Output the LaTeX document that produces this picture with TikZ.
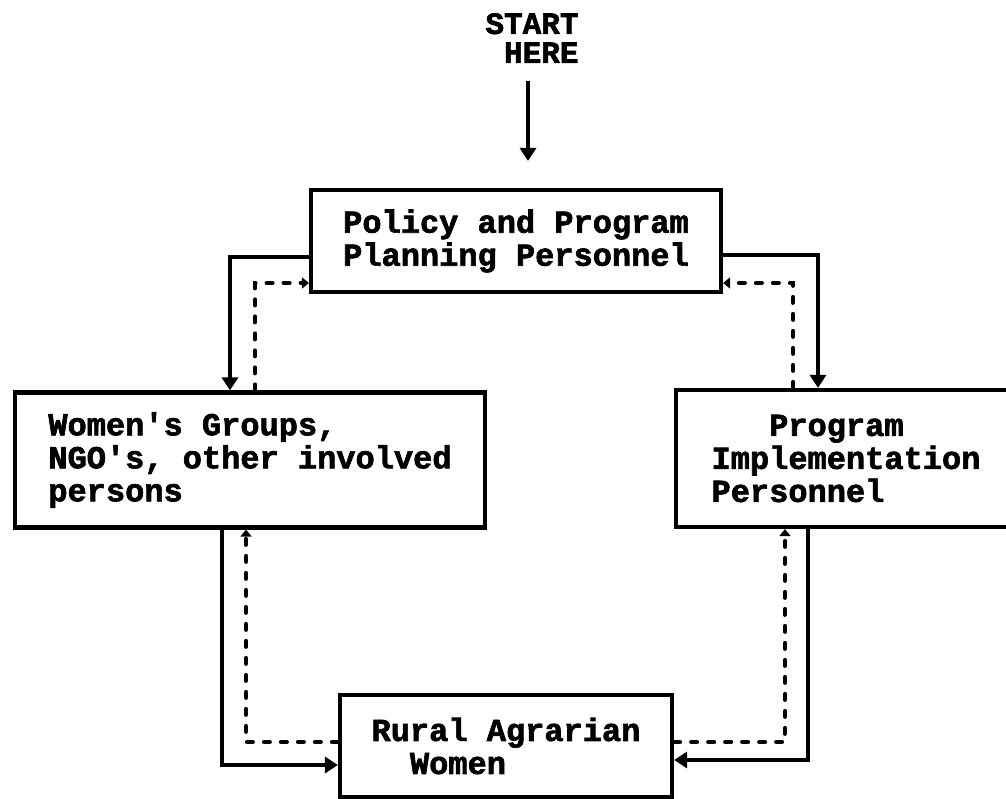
\documentclass[tikz,border=0pt]{standalone}
\usepackage{fontspec}
\newfontfamily\tw[FakeBold=2]{Liberation Mono}
\usetikzlibrary{arrows.meta}
\tikzset{
  box/.style={draw, line width=4.2pt, rectangle, inner sep=0pt, align=left,
    font=\tw\bfseries\fontsize{32}{33}\selectfont},
  solidarr/.style={line width=4.5pt, -{Triangle[width=16pt,length=13pt]}},
  dasharr/.style={line width=4pt, dash pattern=on 6pt off 11pt, line cap=round,
    -{Triangle[width=11pt,length=7pt]}},
}
\begin{document}
\begin{tikzpicture}[x=1pt,y=-1pt]
\clip (0,0) rectangle (1006,799);
\fill[white] (0,0) rectangle (1006,799);

\node[font=\tw\bfseries\fontsize{31}{29}\selectfont, align=right, inner sep=0pt, anchor=north]
  (start) at (532,13) {START\\HERE};

\node[box, minimum width=410pt, minimum height=102pt] (top) at (516,241)
  {Policy and Program\\Planning Personnel};
\node[box, minimum width=470pt, minimum height=135pt] (left) at (250,460)
  {Women's Groups,\\NGO's, other involved\\persons};
\node[box, minimum width=340pt, minimum height=137pt] (right) at (846,458.5)
  {\phantom{Imp}Program\\Implementation\\Personnel};
\node[box, minimum width=332pt, minimum height=102pt] (bottom) at (506,746)
  {Rural Agrarian\\\phantom{Ru}Women};

% start arrow
\draw[solidarr, shorten <=18pt, shorten >=27pt] ([xshift=-4pt]start.south) -- ([xshift=-4pt]start.south |- top.north);

% solid connectors
\draw[solidarr] ([yshift=-16pt]top.west) -| ([xshift=-20pt]left.north);
\draw[solidarr] ([yshift=-14pt]top.east) -| ([xshift=-28pt]right.north);
\draw[solidarr] ([xshift=-28pt]left.south) |- ([yshift=-19pt]bottom.west);
\draw[solidarr] ([xshift=-38pt]right.south) |- ([yshift=-14pt]bottom.east);

% dashed connectors
\draw[dasharr] ([xshift=5pt]left.north) |- ([yshift=-42pt]top.west);
\draw[dasharr] ([xshift=-53pt]right.north) |- ([yshift=-42pt]top.east);
\draw[dasharr] ([yshift=4pt]bottom.west) -| ([xshift=-4pt]left.south);
\draw[dasharr] ([yshift=4pt]bottom.east) -| ([xshift=-61pt]right.south);
\end{tikzpicture}
\end{document}
